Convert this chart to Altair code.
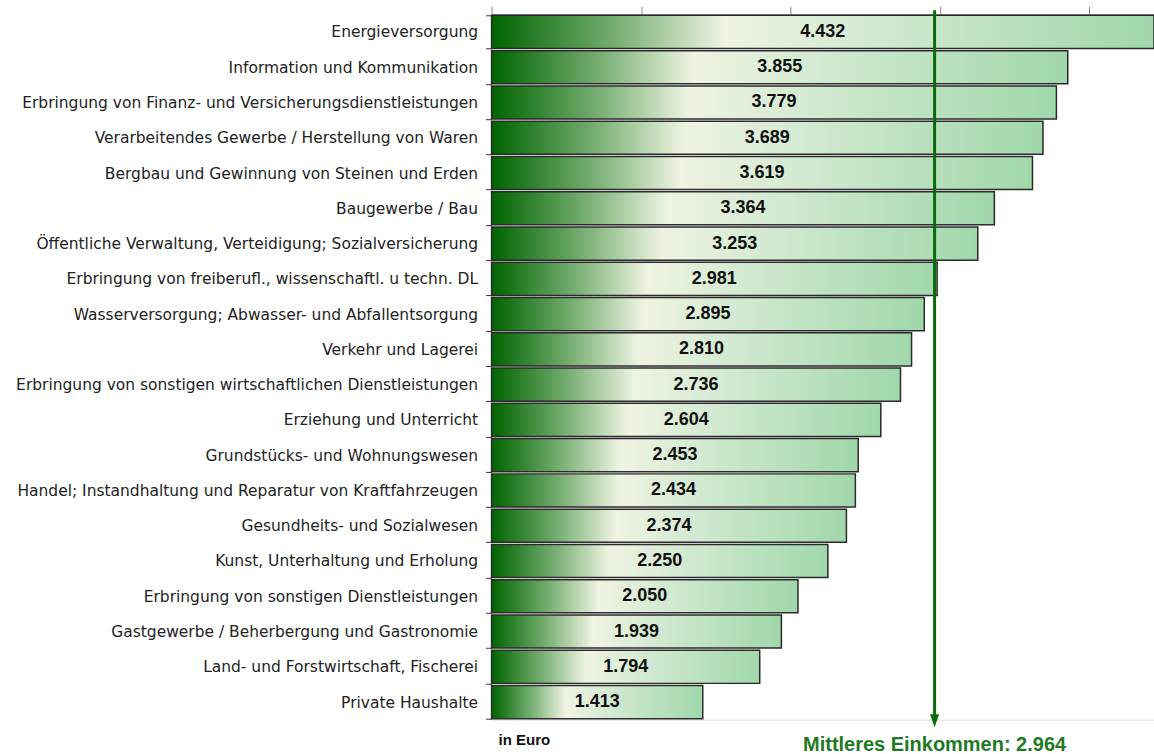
import altair as alt
import pandas as pd

categories = [
    "Energieversorgung",
    "Information und Kommunikation",
    "Erbringung von Finanz- und Versicherungsdienstleistungen",
    "Verarbeitendes Gewerbe / Herstellung von Waren",
    "Bergbau und Gewinnung von Steinen und Erden",
    "Baugewerbe / Bau",
    "Öffentliche Verwaltung, Verteidigung; Sozialversicherung",
    "Erbringung von freiberufl., wissenschaftl. u techn. DL",
    "Wasserversorgung; Abwasser- und Abfallentsorgung",
    "Verkehr und Lagerei",
    "Erbringung von sonstigen wirtschaftlichen Dienstleistungen",
    "Erziehung und Unterricht",
    "Grundstücks- und Wohnungswesen",
    "Handel; Instandhaltung und Reparatur von Kraftfahrzeugen",
    "Gesundheits- und Sozialwesen",
    "Kunst, Unterhaltung und Erholung",
    "Erbringung von sonstigen Dienstleistungen",
    "Gastgewerbe / Beherbergung und Gastronomie",
    "Land- und Forstwirtschaft, Fischerei",
    "Private Haushalte",
]
values = [4432, 3855, 3779, 3689, 3619, 3364, 3253, 2981, 2895, 2810,
          2736, 2604, 2453, 2434, 2374, 2250, 2050, 1939, 1794, 1413]
value_labels = ["4.432", "3.855", "3.779", "3.689", "3.619", "3.364", "3.253",
                "2.981", "2.895", "2.810", "2.736", "2.604", "2.453", "2.434",
                "2.374", "2.250", "2.050", "1.939", "1.794", "1.413"]
mean_value = 2964
mean_label = "Mittleres Einkommen: 2.964"
unit_label = "in Euro"
tick_values = [0, 1000, 2000, 3000, 4000]

df = pd.DataFrame({"cat": categories, "val": values, "lab": value_labels})
df["half"] = df["val"] / 2

xscale = alt.Scale(domain=[0, 4432], nice=False, zero=True)
yscale = alt.Scale(domain=categories, paddingInner=0.06, paddingOuter=0.03)

grad = alt.Gradient(
    gradient="linear",
    stops=[
        alt.GradientStop(color="#006400", offset=0),
        alt.GradientStop(color="#7fb37a", offset=0.2),
        alt.GradientStop(color="#eef3e2", offset=0.35),
        alt.GradientStop(color="#cfe8cf", offset=0.6),
        alt.GradientStop(color="#a0d7aa", offset=1),
    ],
    x1=0, x2=1, y1=0, y2=0,
)

bars = alt.Chart(df).mark_bar(
    color=grad, stroke="#2b2b2b", strokeWidth=1.5
).encode(
    x=alt.X("val:Q", scale=xscale,
            axis=alt.Axis(orient="top", values=tick_values, labels=False,
                          title=None, grid=False, tickSize=8,
                          tickColor="#888888", domainColor="#888888")),
    y=alt.Y("cat:N", scale=yscale, sort=None,
            axis=alt.Axis(title=None, labelFont="DejaVu Sans", labelFontSize=15.5,
                          labelColor="#222222", labelPadding=8, tickSize=6,
                          tickBand="extent", tickColor="#333333", domain=False,
                          labelLimit=600)),
)

texts = alt.Chart(df).mark_text(
    font="Liberation Sans", fontSize=18, fontWeight="bold", color="#111111"
).encode(
    x=alt.X("half:Q", scale=xscale),
    y=alt.Y("cat:N", scale=yscale, sort=None),
    text="lab:N",
)

mean_df = pd.DataFrame({"m": [mean_value], "t": [mean_label]})

rule = alt.Chart(mean_df).mark_rule(color="#0b6b0b", strokeWidth=3).encode(
    x=alt.X("m:Q", scale=xscale),
    y=alt.value(-4),
    y2=alt.value(702),
)

arrow = alt.Chart(mean_df).mark_point(
    shape="M-0.7,-1L0.7,-1L0,1Z", filled=True, color="#0b6b0b", size=170, opacity=1
).encode(
    x=alt.X("m:Q", scale=xscale),
    y=alt.value(707),
)

mean_text = alt.Chart(mean_df).mark_text(
    font="Liberation Sans Narrow, Liberation Sans", fontSize=20, fontWeight="bold",
    color="#1f7a1f", baseline="middle", align="center", dx=0
).encode(
    x=alt.X("m:Q", scale=xscale),
    y=alt.value(731),
    text="t:N",
)

unit_df = pd.DataFrame({"u": [unit_label]})
unit_text = alt.Chart(unit_df).mark_text(
    font="Liberation Sans", fontSize=15, fontWeight="bold", color="#111111",
    align="left", baseline="middle"
).encode(
    x=alt.value(7),
    y=alt.value(726),
    text="u:N",
)

chart = alt.layer(bars, texts, rule, arrow, mean_text, unit_text).properties(
    width=663, height=706,
    autosize=alt.AutoSizeParams(type="none"),
    padding={"left": 492, "top": 14, "right": 0, "bottom": 34},
).configure_view(stroke=None).configure(background="white")

chart.save("out.html", embed_options={"renderer": "svg", "actions": False})
